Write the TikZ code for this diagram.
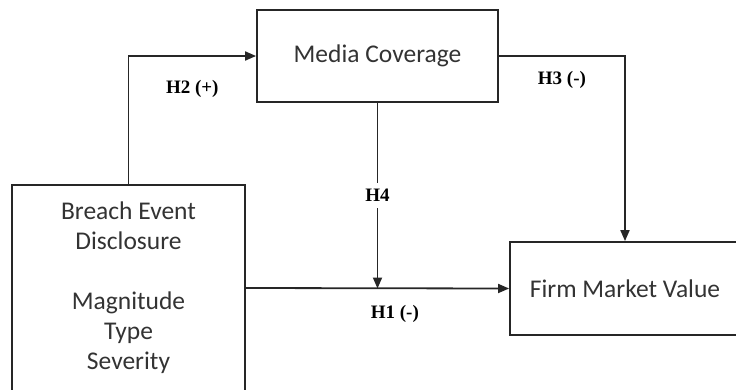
\documentclass[tikz,border=0pt]{standalone}
\usepackage{fontspec}
\setmainfont{Liberation Serif}
\newfontfamily\boxfont{Carlito}
\usetikzlibrary{positioning,arrows.meta,calc}

\begin{document}
\begin{tikzpicture}[x=1pt,y=-1pt,
  box/.style={draw=black!85, line width=1.8pt, align=center, inner sep=0pt,
    font=\boxfont\fontsize{25.5}{30}\selectfont, text=black!80},
  conn/.style={-{Triangle[length=11pt,width=9pt]}, line width=1.8pt, draw=black!85},
  lab/.style={font=\bfseries\fontsize{19}{22}\selectfont, text=black, inner sep=2pt}]

\clip (0,0) rectangle (736,389);

% ===== BOXES =====
\node[box, minimum width=241pt, minimum height=92pt] (media) at (377.5,56) {Media Coverage};
\node[box, minimum width=233pt, minimum height=206pt] (breach) at (128.5,288)
  {Breach Event\\Disclosure\\[30pt]Magnitude\\Type\\Severity};
\node[box, minimum width=230pt, minimum height=93pt] (firm) at (625,288.5) {Firm Market Value};

\coordinate (h4end) at (media.south |- firm.west);

% ===== CONNECTIONS =====
\draw[conn] (breach.north) |- node[lab, pos=0.75, below=21pt] {H2 (+)} (media.west);
\draw[conn] (media.east) -| node[lab, pos=0.25, below=12pt] {H3 (-)} (firm.north);
\draw[conn] (breach.east) -- node[lab, pos=0.566, below=14pt] {H1 (-)} (firm.west);
\draw[conn] (media.south) -- node[lab, fill=white, inner ysep=6pt] {H4} (h4end);

\end{tikzpicture}
\end{document}
